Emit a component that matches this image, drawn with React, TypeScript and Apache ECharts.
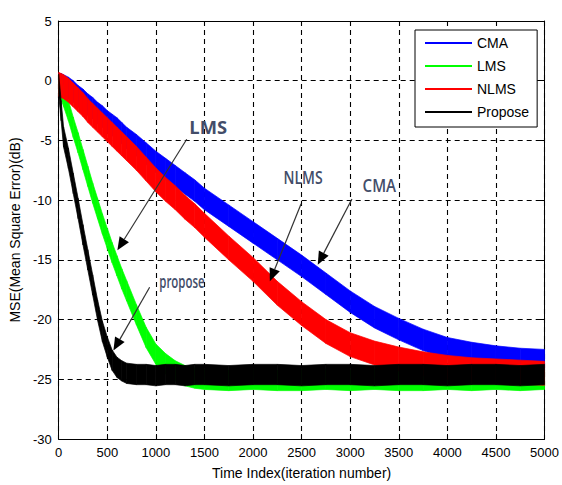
import React, { useEffect, useRef } from "react";
import * as echarts from "echarts";

// Iteration indices at which the learning curves are sampled
const ITERATIONS = [
  0, 25, 50, 100, 150, 200, 250, 300, 350, 400, 450, 500, 550, 600, 650, 700,
  800, 900, 1000, 1100, 1200, 1300, 1400, 1500, 1750, 2000, 2250, 2500, 2750,
  3000, 3250, 3500, 3750, 4000, 4250, 4500, 4750, 5000,
];

// Mean square error (dB), centre of each noisy trace
const CMA_MSE = [
  -0.3, -0.3, -0.4, -0.6, -0.9, -1.3, -1.6, -2.0, -2.3, -2.7, -3.0, -3.4, -3.7,
  -4.0, -4.4, -4.8, -5.4, -6.1, -6.8, -7.4, -8.0, -8.6, -9.2, -9.9, -11.3,
  -12.7, -14.1, -15.5, -17.0, -18.5, -19.8, -20.8, -21.7, -22.4, -22.8, -23.1,
  -23.3, -23.4,
];
const LMS_MSE = [
  -0.3, -0.7, -1.3, -2.5, -3.9, -5.2, -6.6, -8.0, -9.4, -10.7, -12.0, -13.2,
  -14.4, -15.5, -16.6, -17.6, -19.6, -21.5, -22.9, -23.7, -24.3, -24.7, -24.9,
  -25.0, -25.1, -25.0, -25.1, -25.1, -25.0, -25.1, -25.0, -25.1, -25.1, -25.0,
  -25.1, -25.0, -25.1, -25.0,
];
const NLMS_MSE = [
  -0.3, -0.4, -0.5, -0.8, -1.2, -1.6, -2.0, -2.5, -2.9, -3.3, -3.7, -4.1, -4.5,
  -4.9, -5.3, -5.7, -6.5, -7.4, -8.3, -9.1, -9.8, -10.6, -11.3, -12.1, -14.0,
  -15.8, -17.8, -19.5, -21.0, -22.1, -22.8, -23.3, -23.7, -24.0, -24.2, -24.3,
  -24.4, -24.5,
];
const PROPOSE_MSE = [
  -0.3, -2.5, -4.7, -6.5, -8.6, -10.7, -12.9, -15.0, -17.1, -19.2, -21.0, -22.3,
  -23.4, -24.0, -24.3, -24.5, -24.6, -24.6, -24.7, -24.6, -24.6, -24.7, -24.6,
  -24.6, -24.7, -24.6, -24.6, -24.7, -24.6, -24.6, -24.7, -24.6, -24.6, -24.7,
  -24.6, -24.6, -24.7, -24.6,
];

// Half of the peak-to-peak spread of each noisy trace (dB)
const NOISE_HALF = [0.9, 0.85, 1.0, 0.85];

const SERIES_NAMES = ["CMA", "LMS", "NLMS", "Propose"];
const SERIES_VALUES = [CMA_MSE, LMS_MSE, NLMS_MSE, PROPOSE_MSE];
const SERIES_COLORS = ["#0000ff", "#00ff00", "#ff0000", "#000000"];

// Callouts: label, label anchor, arrow tail and arrow tip in (iteration, dB)
const CALLOUTS = [
  { text: "LMS", at: [1539, -3.9], from: [1318, -4.9], to: [604, -14.2], font: '700 17px "Open Sans"', sx: 1.08, sy: 1.0 },
  { text: "NLMS", at: [2515, -8.1], from: [2495, -10.3], to: [2173, -16.8], font: '600 14px "Open Sans"', sx: 1.0, sy: 1.25 },
  { text: "CMA", at: [3300, -8.8], from: [3018, -9.9], to: [2666, -15.4], font: '600 14px "Open Sans"', sx: 1.08, sy: 1.25 },
  { text: "propose", at: [1268, -16.8], from: [936, -17.3], to: [563, -22.6], font: '600 13px "Open Sans"', sx: 0.88, sy: 1.35 },
];

const AXIS_FONT = '"Liberation Sans", Arial, sans-serif';

// One quad per pair of neighbouring samples: [x0, lo0, hi0, x1, lo1, hi1]
function bandSegments(values: number[], half: number) {
  const segs: number[][] = [];
  for (let i = 0; i < ITERATIONS.length - 1; i++) {
    segs.push([
      ITERATIONS[i], values[i] - half, values[i] + half,
      ITERATIONS[i + 1], values[i + 1] - half, values[i + 1] + half,
    ]);
  }
  return segs;
}

function bandSeries(name: string, values: number[], color: string, half: number) {
  return {
    name,
    type: "custom",
    silent: true,
    itemStyle: { color },
    encode: { x: [0, 3], y: [1, 2, 4, 5] },
    data: bandSegments(values, half),
    renderItem: (_params: any, api: any) => {
      const a = api.coord([api.value(0), api.value(1)]);
      const b = api.coord([api.value(3), api.value(4)]);
      const c = api.coord([api.value(3), api.value(5)]);
      const d = api.coord([api.value(0), api.value(2)]);
      return {
        type: "polygon",
        shape: { points: [a, b, c, d] },
        style: { fill: color, stroke: color, lineWidth: 0.7 },
      };
    },
  };
}

function buildOption() {
  const series = SERIES_NAMES.map((n, i) =>
    bandSeries(n, SERIES_VALUES[i], SERIES_COLORS[i], NOISE_HALF[i])
  );

  const splitDash = { type: [5, 4], color: "#000", width: 1.1 };
  const axisLine = { show: true, onZero: false, lineStyle: { color: "#000", width: 1 } };
  const tick = { show: true, inside: true, length: 5, lineStyle: { color: "#000" } };
  const label = {
    color: "#000",
    fontSize: 13,
    fontFamily: AXIS_FONT,
    margin: 7,
    formatter: (v: number) => String(v),
  };

  return {
    animation: false,
    backgroundColor: "#fff",
    grid: { left: 52, right: 13, top: 21, bottom: 46, show: false },
    legend: {
      data: SERIES_NAMES,
      orient: "vertical",
      left: 415,
      top: 30,
      icon: "rect",
      itemWidth: 47,
      itemHeight: 2,
      itemGap: 9,
      padding: [6, 8, 8, 10],
      borderColor: "#000",
      borderWidth: 1,
      borderRadius: 0,
      backgroundColor: "#fff",
      selectedMode: false,
      textStyle: { fontSize: 14, fontFamily: AXIS_FONT, color: "#000", lineHeight: 14 },
    },
    xAxis: [
      {
        type: "value",
        min: 0,
        max: 5000,
        interval: 500,
        position: "bottom",
        axisLine,
        axisTick: tick,
        axisLabel: label,
        splitLine: { show: true, lineStyle: splitDash },
        name: "Time Index(iteration number)",
        nameLocation: "middle",
        nameGap: 27,
        nameTextStyle: { fontSize: 14, fontFamily: AXIS_FONT, color: "#000" },
      },
      {
        type: "value",
        min: 0,
        max: 5000,
        interval: 500,
        position: "top",
        axisLine,
        axisTick: tick,
        axisLabel: { show: false },
        splitLine: { show: false },
      },
    ],
    yAxis: [
      {
        type: "value",
        min: -30,
        max: 5,
        interval: 5,
        position: "left",
        axisLine,
        axisTick: tick,
        axisLabel: label,
        splitLine: { show: true, lineStyle: splitDash },
        name: "MSE(Mean Square Error)(dB)",
        nameLocation: "middle",
        nameGap: 34,
        nameTextStyle: { fontSize: 14, fontFamily: AXIS_FONT, color: "#000" },
      },
      {
        type: "value",
        min: -30,
        max: 5,
        interval: 5,
        position: "right",
        axisLine,
        axisTick: tick,
        axisLabel: { show: false },
        splitLine: { show: false },
      },
    ],
    series,
  };
}

function calloutGraphics(chart: echarts.ECharts) {
  const toPx = (p: number[]) =>
    chart.convertToPixel({ xAxisIndex: 0, yAxisIndex: 0 }, p) as number[];
  const items: any[] = [];
  const headLen = 13;
  const headHalf = 5.5;
  CALLOUTS.forEach((c) => {
    const [tx, ty] = toPx(c.at);
    const [fx, fy] = toPx(c.from);
    const [px, py] = toPx(c.to);
    const dx = px - fx;
    const dy = py - fy;
    const len = Math.hypot(dx, dy);
    const ux = dx / len;
    const uy = dy / len;
    const bx = px - ux * headLen;
    const by = py - uy * headLen;
    items.push({
      type: "line",
      z: 10,
      silent: true,
      shape: { x1: fx, y1: fy, x2: bx, y2: by },
      style: { stroke: "#333", lineWidth: 1.2 },
    });
    items.push({
      type: "polygon",
      z: 10,
      silent: true,
      shape: {
        points: [
          [px, py],
          [bx - uy * headHalf, by + ux * headHalf],
          [bx + uy * headHalf, by - ux * headHalf],
        ],
      },
      style: { fill: "#000" },
    });
    items.push({
      type: "text",
      z: 10,
      silent: true,
      x: tx,
      y: ty,
      scaleX: c.sx,
      scaleY: c.sy,
      style: {
        text: c.text,
        font: c.font,
        fill: "#434d69",
        align: "center",
        verticalAlign: "middle",
        textAlign: "center",
        textVerticalAlign: "middle",
      },
    });
  });
  return items;
}

export default function App() {
  const ref = useRef<HTMLDivElement>(null);
  useEffect(() => {
    if (!ref.current) return;
    const chart = echarts.init(ref.current, undefined, { renderer: "svg" });
    chart.setOption(buildOption());
    chart.setOption({ graphic: { elements: calloutGraphics(chart) } });
    return () => chart.dispose();
  }, []);
  return (
    <div
      ref={ref}
      style={{ position: "fixed", left: 0, top: 0, width: 562, height: 485, background: "#fff" }}
    />
  );
}
